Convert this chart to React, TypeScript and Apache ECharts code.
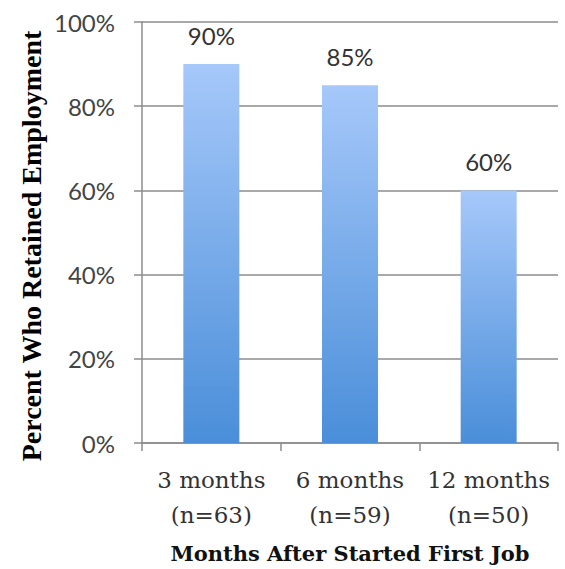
import React, { useEffect, useRef } from "react";
import * as echarts from "echarts";

const categories = ["3 months\n(n=63)", "6 months\n(n=59)", "12 months\n(n=50)"];
const values = [90, 85, 60];
const yTicks = [0, 20, 40, 60, 80, 100];
const yTitle = "Percent Who Retained Employment";
const xTitle = "Months After Started First Job";

export default function App() {
  const ref = useRef<HTMLDivElement>(null);
  useEffect(() => {
    if (!ref.current) return;
    const chart = echarts.init(ref.current, undefined, { renderer: "svg" });
    chart.setOption({
      animation: false,
      backgroundColor: "#ffffff",
      grid: { left: 142, right: 7, top: 22, bottom: 126 },
      graphic: [
        {
          type: "text",
          x: 31,
          y: 246,
          rotation: Math.PI / 2,
          style: {
            text: yTitle,
            fontFamily: "Liberation Serif",
            fontWeight: "bold",
            fontSize: 28,
            fill: "#000",
            align: "center",
            verticalAlign: "middle",
          },
        },
      ],
      xAxis: {
        type: "category",
        data: categories,
        name: xTitle,
        nameLocation: "middle",
        nameGap: 100,
        nameTextStyle: { fontFamily: "DejaVu Serif", fontWeight: "bold", fontSize: 21, color: "#111" },
        axisLine: { lineStyle: { color: "#8c8c8c", width: 1.5 } },
        axisTick: { show: true, length: 8, lineStyle: { color: "#8c8c8c", width: 1.5 } },
        axisLabel: {
          interval: 0,
          fontFamily: "DejaVu Serif",
          fontSize: 23,
          color: "#333",
          lineHeight: 35,
          margin: 19,
        },
      },
      yAxis: {
        type: "value",
        min: 0,
        max: 100,
        interval: 20,
        axisLine: { show: true, lineStyle: { color: "#8c8c8c", width: 1.5 } },
        axisTick: { show: true, length: 8, lineStyle: { color: "#8c8c8c", width: 1.5 } },
        splitLine: { show: true, lineStyle: { color: "#8c8c8c", width: 1.5 } },
        axisLabel: {
          formatter: (v: number) => (yTicks.includes(v) ? v + "%" : ""),
          fontFamily: "Lato",
          fontSize: 24,
          color: "#444",
          margin: 27,
        },
      },
      series: [
        {
          type: "bar",
          data: values,
          barWidth: 56,
          itemStyle: {
            color: new echarts.graphic.LinearGradient(0, 0, 0, 1, [
              { offset: 0, color: "#a6c8fa" },
              { offset: 1, color: "#4a8ed9" },
            ]),
          },
          label: {
            show: true,
            position: "top",
            distance: 17,
            formatter: "{c}%",
            fontFamily: "Lato",
            fontSize: 24,
            color: "#333",
          },
        },
      ],
    });
    return () => chart.dispose();
  }, []);
  return <div ref={ref} style={{ width: 565, height: 569, position: "absolute", left: 0, top: 0 }} />;
}
